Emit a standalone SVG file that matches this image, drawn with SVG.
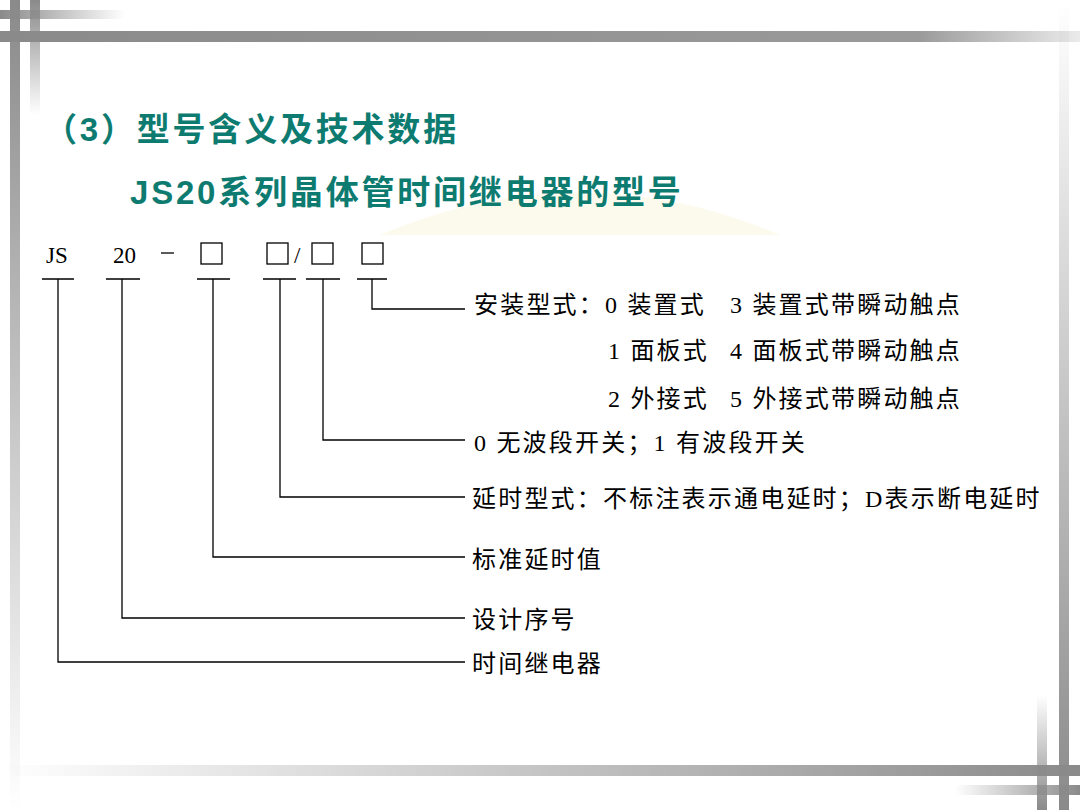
<svg xmlns="http://www.w3.org/2000/svg" width="1080" height="810" viewBox="0 0 1080 810">
<defs>
<linearGradient id="fr" x1="0" x2="1" y1="0" y2="0"><stop offset="0" stop-color="#8a8a8a"/><stop offset="0.85" stop-color="#9a9a9a"/><stop offset="1" stop-color="#9a9a9a" stop-opacity="0.2"/></linearGradient>
<linearGradient id="fr2" x1="0" x2="1" y1="0" y2="0"><stop offset="0" stop-color="#8a8a8a"/><stop offset="1" stop-color="#8a8a8a" stop-opacity="0"/></linearGradient>
<linearGradient id="fd" x1="0" x2="0" y1="0" y2="1"><stop offset="0" stop-color="#8a8a8a"/><stop offset="1" stop-color="#8a8a8a" stop-opacity="0"/></linearGradient>
<linearGradient id="fl" x1="1" x2="0" y1="0" y2="0"><stop offset="0" stop-color="#8a8a8a"/><stop offset="1" stop-color="#8a8a8a" stop-opacity="0"/></linearGradient>
<linearGradient id="fu" x1="0" x2="0" y1="1" y2="0"><stop offset="0" stop-color="#8a8a8a"/><stop offset="1" stop-color="#8a8a8a" stop-opacity="0"/></linearGradient>
<style>
.t{font-family:"Liberation Serif","Noto Sans CJK SC",serif;font-size:24px;letter-spacing:2.2px;fill:#000}
.c{font-family:"Liberation Serif",serif;font-size:23px;fill:#000}
.h{font-family:"Liberation Sans","Noto Sans CJK SC",sans-serif;font-size:33px;font-weight:bold;letter-spacing:2.8px;fill:#0e7b70}
.l{stroke:#000;stroke-width:1.3;fill:none}
.b{stroke:#000;stroke-width:1.3;fill:none}
</style>
</defs>
<rect width="1080" height="810" fill="#fff"/>
<path d="M380 235 Q580 150 780 235 Z" fill="#fbf8e6" opacity="0.7"/>
<g id="frame">
<rect x="0" y="31" width="1080" height="11" fill="url(#fr)"/>
<rect x="0" y="10" width="125" height="9" fill="url(#fr2)"/>
<rect x="10" y="0" width="10" height="810" fill="url(#fd)"/>
<rect x="30" y="0" width="10" height="115" fill="url(#fd)"/>
<rect x="0" y="765" width="1080" height="11" fill="url(#fl)"/>
<rect x="955" y="785" width="125" height="10" fill="url(#fl)"/>
<rect x="1059" y="0" width="10" height="810" fill="url(#fu)"/>
<rect x="1037" y="695" width="10" height="115" fill="url(#fu)"/>
</g>
<text class="h" x="44" y="141">（3）型号含义及技术数据</text>
<text class="h" x="130" y="204">JS20系列晶体管时间继电器的型号</text>
<g id="code">
<text class="c" x="46" y="263">JS</text>
<text class="c" x="113" y="263">20</text>
<line class="l" x1="161" y1="253" x2="174" y2="253"/>
<rect class="b" x="201" y="243" width="21" height="21"/>
<rect class="b" x="267" y="243" width="21" height="21"/>
<text class="c" x="294" y="263">/</text>
<rect class="b" x="312" y="243" width="21" height="21"/>
<rect class="b" x="362" y="243" width="21" height="21"/>
</g>
<g id="connectors">
<path class="l" d="M42 279H74M58 279V662H465"/>
<path class="l" d="M106 279H140M122 279V618H465"/>
<path class="l" d="M197 279H230M213 279V557H465"/>
<path class="l" d="M263 279H296M280 279V497H465"/>
<path class="l" d="M306 279H340M323 279V440H465"/>
<path class="l" d="M357 279H387M372 279V309H465"/>
</g>
<g id="labels">
<text class="t" x="474" y="313">安装型式：0 装置式</text>
<text class="t" x="730" y="313">3 装置式带瞬动触点</text>
<text class="t" x="608" y="359">1 面板式</text>
<text class="t" x="730" y="359">4 面板式带瞬动触点</text>
<text class="t" x="608" y="407">2 外接式</text>
<text class="t" x="730" y="407">5 外接式带瞬动触点</text>
<text class="t" x="474" y="451">0  无波段开关；1  有波段开关</text>
<text class="t" x="472" y="507">延时型式：不标注表示通电延时；D表示断电延时</text>
<text class="t" x="472" y="568">标准延时值</text>
<text class="t" x="472" y="628">设计序号</text>
<text class="t" x="472" y="672">时间继电器</text>
</g>
</svg>
